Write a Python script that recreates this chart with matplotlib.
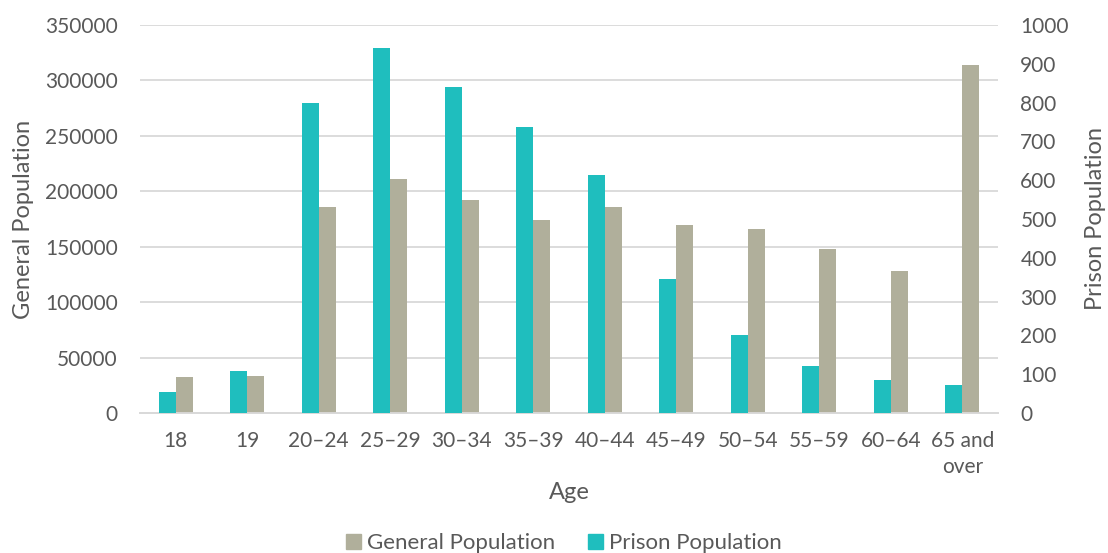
import matplotlib.pyplot as plt
import numpy as np
from matplotlib.patches import Patch

plt.rcParams['font.family'] = ['Lato', 'DejaVu Sans']

# 数据
ages = ['18', '19', '20–24', '25–29', '30–34', '35–39', '40–44',
        '45–49', '50–54', '55–59', '60–64', '65 and\nover']
general_pop = [32500, 33400, 186000, 211000, 192500, 174000, 186000,
               170000, 166000, 147500, 128000, 314000]
prison_pop = [55, 108, 798, 940, 840, 736, 613, 345, 201, 121, 85, 71]

GREY = '#B0AF9B'
TEAL = '#1FBEBE'
TXT = '#595959'
GRID = '#D9D9D9'

fig = plt.figure(figsize=(11.08, 5.53), dpi=100)
ax1 = fig.add_axes([0.1264, 0.2532, 0.7744, 0.7016])
ax2 = ax1.twinx()

x = np.arange(len(ages))
w = 0.24
ax2.bar(x - w / 2, prison_pop, width=w, color=TEAL, zorder=3)
ax1.bar(x + w / 2, general_pop, width=w, color=GREY, zorder=3)

ax1.set_ylim(0, 350000)
ax1.set_yticks(np.arange(0, 350001, 50000))
ax2.set_ylim(0, 1000)
ax2.set_yticks(np.arange(0, 1001, 100))
ax1.set_xlim(-0.5, len(ages) - 0.5)
ax1.set_xticks(x)
ax1.set_xticklabels(ages, fontsize=15, color=TXT, linespacing=1.4, va='top')

ax1.yaxis.grid(True, color=GRID, linewidth=1.3, zorder=0)
ax1.set_axisbelow(True)

for ax in (ax1, ax2):
    for s in ('top', 'left', 'right'):
        ax.spines[s].set_visible(False)
    ax.spines['bottom'].set_color(GRID)
    ax.spines['bottom'].set_linewidth(1.3)
    ax.tick_params(length=0, labelsize=15, labelcolor=TXT)
ax1.tick_params(axis='y', pad=16)
ax1.tick_params(axis='x', pad=13)
ax2.tick_params(axis='y', pad=16)

ax1.set_ylabel('General Population', fontsize=17, color=TXT, labelpad=8)
ax2.set_ylabel('Prison Population', fontsize=17, color=TXT, labelpad=12)
ax1.set_xlabel('Age', fontsize=17, color=TXT, labelpad=3)

handles = [Patch(color=GREY, label='General Population'),
           Patch(color=TEAL, label='Prison Population')]
fig.legend(handles=handles, loc='lower center', bbox_to_anchor=(0.509, -0.037),
           ncol=2, frameon=False, fontsize=16, labelcolor=TXT,
           handlelength=0.65, handleheight=0.65, handletextpad=0.28,
           columnspacing=1.5)

fig.savefig('out.png', dpi=100, facecolor='white')
